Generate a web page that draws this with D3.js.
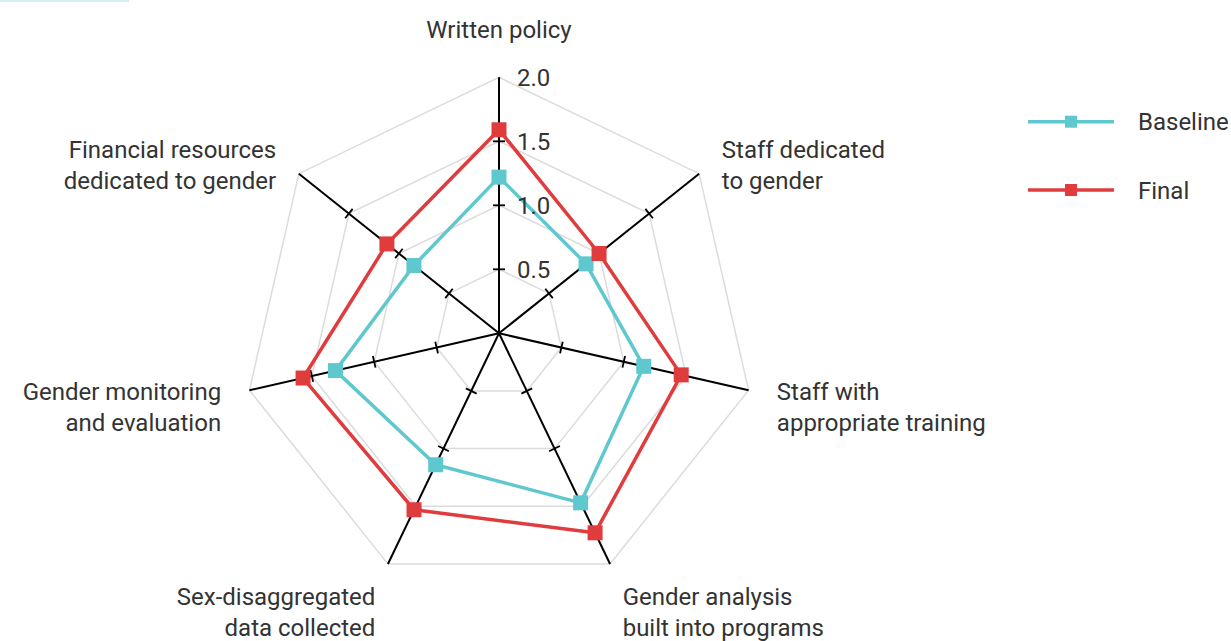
<!DOCTYPE html>
<html>
<head>
<meta charset="utf-8">
<script src="https://cdn.jsdelivr.net/npm/d3@7"></script>
<style>
  body { margin: 0; background: #fff; }
  text { font-family: Roboto, "Noto Sans", sans-serif; fill: #333; }
</style>
</head>
<body>
<svg id="chart" width="1231" height="641"></svg>
<script>
// axes, clockwise from the top
var categories = [
  ["Written policy"],
  ["Staff dedicated", "to gender"],
  ["Staff with", "appropriate training"],
  ["Gender analysis", "built into programs"],
  ["Sex-disaggregated", "data collected"],
  ["Gender monitoring", "and evaluation"],
  ["Financial resources", "dedicated to gender"]
]
var baseline = [1.22, 0.87, 1.16, 1.47, 1.14, 1.31, 0.85]
var final = [1.59, 1.0, 1.46, 1.73, 1.53, 1.57, 1.12]
var levels = [0.5, 1.0, 1.5, 2.0]
var tickLabels = ["0.5", "1.0", "1.5", "2.0"]
var seriesNames = ["Baseline", "Final"]
var seriesColors = ["#5fc8ce", "#e03c3e"]

var cx = 499, cy = 333.3
var n = categories.length
var svg = d3.select("#chart")

// thin strip left at the top-left corner
svg.append("rect").attr("x", 0).attr("y", 0).attr("width", 129).attr("height", 2).style("fill", "#d6edf2")

var rScale = d3.scaleLinear().domain([0, 2]).range([0, 256])
var angle = i => i * 2 * Math.PI / n
// point on axis i at value v
var pt = (i, v) => [cx + rScale(v) * Math.sin(angle(i)), cy - rScale(v) * Math.cos(angle(i))]

var g = svg.append("g").attr("transform", "translate(" + cx + "," + cy + ")")

// grid heptagons
var radial = d3.lineRadial().curve(d3.curveLinearClosed)
g.selectAll("path.grid")
  .data(levels)
  .enter()
  .append("path")
  .attr("class", "grid")
  .attr("d", lv => radial(d3.range(n).map(i => [angle(i), rScale(lv)])))
  .style("fill", "none")
  .style("stroke", "#dcdcdc")
  .style("stroke-width", 1.5)

// axis spokes
svg.selectAll("line.spoke")
  .data(d3.range(n))
  .enter()
  .append("line")
  .attr("class", "spoke")
  .attr("x1", cx).attr("y1", cy)
  .attr("x2", i => pt(i, 2)[0])
  .attr("y2", i => pt(i, 2)[1])
  .style("stroke", "#000")
  .style("stroke-width", 2)

// tick marks across each spoke
var ticks = []
d3.range(n).forEach(i => levels.slice(0, 3).forEach(lv => ticks.push({i: i, v: lv})))
svg.selectAll("line.tick")
  .data(ticks)
  .enter()
  .append("line")
  .attr("class", "tick")
  .attr("x1", d => pt(d.i, d.v)[0] - 6 * Math.cos(angle(d.i)))
  .attr("y1", d => pt(d.i, d.v)[1] - 6 * Math.sin(angle(d.i)))
  .attr("x2", d => pt(d.i, d.v)[0] + 6 * Math.cos(angle(d.i)))
  .attr("y2", d => pt(d.i, d.v)[1] + 6 * Math.sin(angle(d.i)))
  .style("stroke", "#000")
  .style("stroke-width", 1.8)

// series
var series = [baseline, final]
series.forEach((vals, s) => {
  var pts = vals.map((v, i) => pt(i, v))
  svg.append("path")
    .attr("d", d3.line().curve(d3.curveLinearClosed)(pts))
    .style("fill", "none")
    .style("stroke", seriesColors[s])
    .style("stroke-width", 3.5)
    .style("stroke-linejoin", "round")
  svg.selectAll("rect.m" + s)
    .data(pts)
    .enter()
    .append("rect")
    .attr("class", "m" + s)
    .attr("x", d => d[0] - 7.5)
    .attr("y", d => d[1] - 7.5)
    .attr("width", 15)
    .attr("height", 15)
    .style("fill", seriesColors[s])
})

// value labels along the top spoke
svg.selectAll("text.tl")
  .data(levels)
  .enter()
  .append("text")
  .attr("class", "tl")
  .attr("x", 517)
  .attr("y", (lv) => pt(0, lv)[1] + 9)
  .style("font-size", "24px")
  .text((lv, k) => tickLabels[k])

// category labels
categories.forEach((lines, i) => {
  var a = angle(i)
  var s = Math.sin(a), c = -Math.cos(a)
  var p = pt(i, 2)
  var x = p[0] + 29 * s, y = p[1] + 30 * c
  var anchor = Math.abs(s) < 0.1 ? "middle" : (s > 0 ? "start" : "end")
  var dy = c < -0.9 ? -9 : (c > 0.5 ? 14 : 3)
  var t = svg.append("text")
    .attr("text-anchor", anchor)
    .style("font-size", "24px")
  lines.forEach((ln, k) => {
    t.append("tspan").attr("x", x).attr("y", y + dy + k * 31).text(ln)
  })
})

// legend
var legend = svg.selectAll("g.legend")
  .data(seriesNames)
  .enter()
  .append("g")
  .attr("class", "legend")
  .attr("transform", (d, k) => "translate(0," + (121.7 + k * 68.3) + ")")
legend.append("line")
  .attr("x1", 1028).attr("x2", 1114)
  .style("stroke", (d, k) => seriesColors[k])
  .style("stroke-width", 3.5)
legend.append("rect")
  .attr("x", 1065).attr("y", -6).attr("width", 12).attr("height", 12)
  .style("fill", (d, k) => seriesColors[k])
legend.append("text")
  .attr("x", 1138).attr("y", 8.5)
  .style("font-size", "24px")
  .text(d => d)
</script>
</body>
</html>
